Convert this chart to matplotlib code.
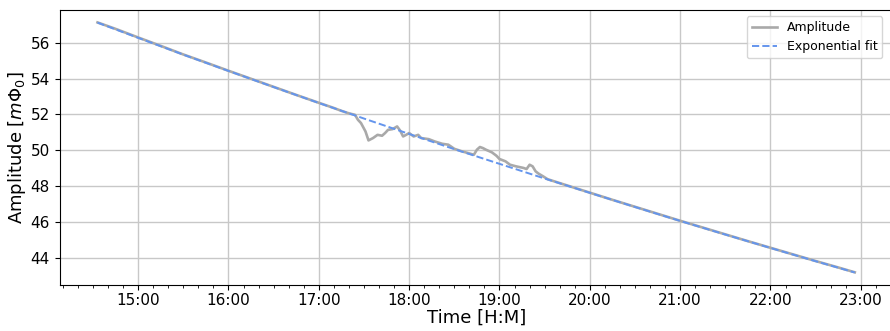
import pandas as pd
import matplotlib
matplotlib.use('Agg')
import matplotlib.pyplot as plt
import matplotlib.dates as mdates

# -- data --
DAY = '2023-01-01 '

amp_times = [
    '14:33', '14:45', '15:00', '15:15', '15:30', '15:45', '16:00', '16:15',
    '16:30', '16:45', '17:00', '17:10', '17:15', '17:20', '17:24', '17:26',
    '17:28', '17:31', '17:33', '17:36', '17:39', '17:42', '17:44', '17:46',
    '17:49', '17:52', '17:54', '17:56', '17:58', '18:00', '18:03', '18:06',
    '18:08', '18:13', '18:17', '18:22', '18:26', '18:30', '18:35', '18:40',
    '18:43', '18:45', '18:47', '18:49', '18:51', '18:55', '18:58', '19:00',
    '19:04', '19:07', '19:11', '19:16', '19:18', '19:20', '19:22', '19:24',
    '19:26', '19:29', '19:32', '19:45', '20:00', '20:15', '20:30', '20:45',
    '21:00', '21:15', '21:30', '21:45', '22:00', '22:15', '22:30', '22:45',
    '22:56',
]
amp_values = [
    57.14, 56.78, 56.30, 55.83, 55.35, 54.90, 54.44, 53.99,
    53.54, 53.09, 52.65, 52.36, 52.20, 52.06, 51.98, 51.70,
    51.52, 51.05, 50.55, 50.68, 50.86, 50.81, 50.96, 51.14,
    51.18, 51.33, 51.10, 50.77, 50.86, 50.96, 50.77, 50.86,
    50.68, 50.62, 50.49, 50.36, 50.31, 50.08, 49.94, 49.82,
    49.75, 50.03, 50.18, 50.12, 50.03, 49.88, 49.69, 49.51,
    49.38, 49.19, 49.10, 49.01, 48.95, 49.19, 49.10, 48.82,
    48.69, 48.54, 48.38, 48.03, 47.63, 47.23, 46.84, 46.45,
    46.06, 45.68, 45.30, 44.92, 44.55, 44.18, 43.81, 43.45,
    43.18,
]

fit_times = [
    '14:33', '15:00', '15:30', '16:00', '16:30', '17:00', '17:30', '18:00',
    '18:30', '19:00', '19:30', '20:00', '20:30', '21:00', '21:30', '22:00',
    '22:30', '22:56',
]
fit_values = [
    57.13, 56.28, 55.34, 54.43, 53.53, 52.64, 51.77, 50.91,
    50.06, 49.24, 48.42, 47.62, 46.83, 46.05, 45.29, 44.54,
    43.80, 43.17,
]

amp_t = pd.to_datetime([DAY + t for t in amp_times])
fit_t = pd.to_datetime([DAY + t for t in fit_times])

fig = plt.figure(figsize=(8.9, 3.31), dpi=100)
ax = fig.add_axes([0.067, 0.139, 0.936, 0.831])

ax.plot(amp_t, amp_values, color='darkgray', linewidth=1.9, label='Amplitude')
ax.plot(fit_t, fit_values, color='cornflowerblue', linestyle='--',
        linewidth=1.4, label='Exponential fit')

ax.set_yticks([44, 46, 48, 50, 52, 54, 56])
ax.xaxis.set_major_locator(mdates.HourLocator())
ax.xaxis.set_minor_locator(mdates.MinuteLocator(byminute=range(0, 60, 10)))
ax.xaxis.set_major_formatter(mdates.DateFormatter('%H:%M'))
ax.tick_params(axis='both', labelsize=11)
ax.tick_params(axis='x', pad=2)
ax.grid(True, which='major', color='#c8c8c8', linewidth=1.0)
ax.set_axisbelow(True)

ax.set_xlabel('Time [H:M]', fontsize=13, labelpad=1)
ax.set_ylabel(r'Amplitude [$m\Phi_0$]', fontsize=13, labelpad=2)
ax.legend(loc='upper right', fontsize=9, bbox_to_anchor=(0.995, 1.0))

fig.savefig('out.png', dpi=100)
